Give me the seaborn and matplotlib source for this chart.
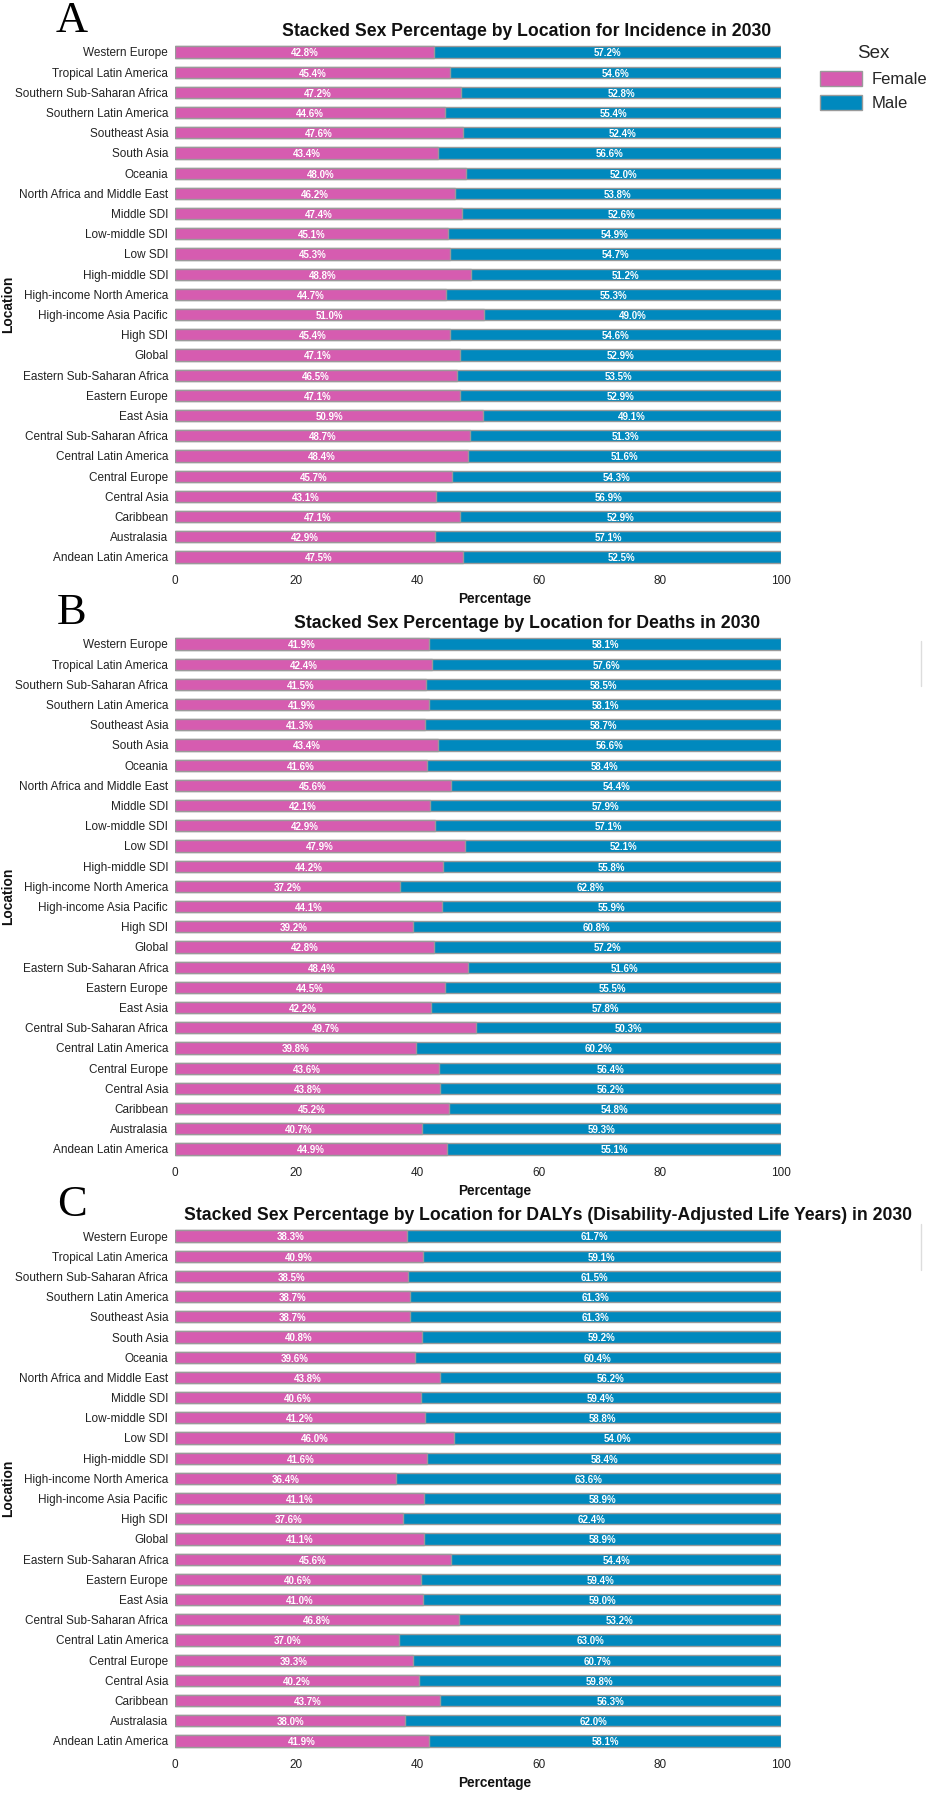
import matplotlib
matplotlib.use("Agg")
import matplotlib.pyplot as plt
import seaborn as sns
import pandas as pd
import numpy as np
from matplotlib.patches import Patch
from matplotlib.lines import Line2D

locations = ["Western Europe", "Tropical Latin America", "Southern Sub-Saharan Africa",
             "Southern Latin America", "Southeast Asia", "South Asia", "Oceania",
             "North Africa and Middle East", "Middle SDI", "Low-middle SDI", "Low SDI",
             "High-middle SDI", "High-income North America", "High-income Asia Pacific",
             "High SDI", "Global", "Eastern Sub-Saharan Africa", "Eastern Europe",
             "East Asia", "Central Sub-Saharan Africa", "Central Latin America",
             "Central Europe", "Central Asia", "Caribbean", "Australasia",
             "Andean Latin America"]

incidence_female = [42.8, 45.4, 47.2, 44.6, 47.6, 43.4, 48.0, 46.2, 47.4, 45.1, 45.3, 48.8, 44.7,
                    51.0, 45.4, 47.1, 46.5, 47.1, 50.9, 48.7, 48.4, 45.7, 43.1, 47.1, 42.9, 47.5]
incidence_male = [57.2, 54.6, 52.8, 55.4, 52.4, 56.6, 52.0, 53.8, 52.6, 54.9, 54.7, 51.2, 55.3,
                  49.0, 54.6, 52.9, 53.5, 52.9, 49.1, 51.3, 51.6, 54.3, 56.9, 52.9, 57.1, 52.5]

deaths_female = [41.9, 42.4, 41.5, 41.9, 41.3, 43.4, 41.6, 45.6, 42.1, 42.9, 47.9, 44.2, 37.2,
                 44.1, 39.2, 42.8, 48.4, 44.5, 42.2, 49.7, 39.8, 43.6, 43.8, 45.2, 40.7, 44.9]
deaths_male = [58.1, 57.6, 58.5, 58.1, 58.7, 56.6, 58.4, 54.4, 57.9, 57.1, 52.1, 55.8, 62.8,
               55.9, 60.8, 57.2, 51.6, 55.5, 57.8, 50.3, 60.2, 56.4, 56.2, 54.8, 59.3, 55.1]

dalys_female = [38.3, 40.9, 38.5, 38.7, 38.7, 40.8, 39.6, 43.8, 40.6, 41.2, 46.0, 41.6, 36.4,
                41.1, 37.6, 41.1, 45.6, 40.6, 41.0, 46.8, 37.0, 39.3, 40.2, 43.7, 38.0, 41.9]
dalys_male = [61.7, 59.1, 61.5, 61.3, 61.3, 59.2, 60.4, 56.2, 59.4, 58.8, 54.0, 58.4, 63.6,
              58.9, 62.4, 58.9, 54.4, 59.4, 59.0, 53.2, 63.0, 60.7, 59.8, 56.3, 62.0, 58.1]

titles = ["Stacked Sex Percentage by Location for Incidence in 2030",
          "Stacked Sex Percentage by Location for Deaths in 2030",
          "Stacked Sex Percentage by Location for DALYs (Disability-Adjusted Life Years) in 2030"]
panel_letters = ["A", "B", "C"]
sex_labels = ["Female", "Male"]
x_ticks = [0, 20, 40, 60, 80, 100]

FEMALE_C = "#D65CB0"
MALE_C = "#0089BE"
EDGE_C = "#9A9A9A"

sns.set_theme(style="white")
plt.rcParams["font.family"] = ["Liberation Sans", "DejaVu Sans"]

W, H = 930, 1793
fig = plt.figure(figsize=(W / 100, H / 100), dpi=100)

panels = [(incidence_female, incidence_male), (deaths_female, deaths_male),
          (dalys_female, dalys_male)]
row0_px = [52, 644, 1236]
spacing = 20.2
n = len(locations)
ax_left_px, ax_right_px = 175, 781
title_cx = [527, 527, 548]

for k, (fem, mal) in enumerate(panels):
    top_px = row0_px[k] - spacing / 2
    bot_px = row0_px[k] + (n - 1) * spacing + spacing / 2
    ax = fig.add_axes([ax_left_px / W, 1 - bot_px / H,
                       (ax_right_px - ax_left_px) / W, (bot_px - top_px) / H])
    df = pd.DataFrame({"Location": locations, "Female": fem, "Male": mal})
    df["Total"] = df["Female"] + df["Male"]
    sns.barplot(data=df, x="Total", y="Location", color=MALE_C, width=0.56,
                edgecolor=EDGE_C, linewidth=1.0, saturation=1, ax=ax)
    sns.barplot(data=df, x="Female", y="Location", color=FEMALE_C, width=0.56,
                edgecolor=EDGE_C, linewidth=1.0, saturation=1, ax=ax)
    for i, (f, m) in enumerate(zip(fem, mal)):
        ax.text(f / 2, i + 0.02, f"{f:.1f}%", ha="center", va="center_baseline",
                color="white", fontsize=7, fontweight="bold")
        ax.text(f + m / 2, i + 0.02, f"{m:.1f}%", ha="center", va="center_baseline",
                color="white", fontsize=7, fontweight="bold")
    ax.set_xlim(0, 100)
    ax.set_ylim(n - 0.5, -0.5)
    ax.set_xticks(x_ticks)
    ax.set_xticklabels([str(t) for t in x_ticks])
    ax.tick_params(axis="both", length=0, labelsize=8.5, colors="#222222")
    ax.tick_params(axis="x", pad=6)
    ax.tick_params(axis="y", pad=5)
    for s in ax.spines.values():
        s.set_visible(False)
    ax.set_xlabel("Percentage", fontsize=9.8, fontweight="bold", color="#111111")
    ax.xaxis.set_label_coords((495 - ax_left_px) / (ax_right_px - ax_left_px), -0.047)
    ax.set_ylabel("Location", fontsize=10, fontweight="bold", color="#111111")
    ax.yaxis.set_label_coords(-(ax_left_px - 15) / (ax_right_px - ax_left_px), 0.5)

    fig.text(title_cx[k] / W, 1 - (row0_px[k] - 20.5) / H, titles[k],
             ha="center", va="center", fontsize=12.7, fontweight="bold", color="#111111")
    fig.text(72 / W, 1 - (row0_px[k] - 20) / H, panel_letters[k],
             ha="center", va="baseline", fontsize=32, color="black",
             family=["Liberation Serif", "DejaVu Serif"])

    if k == 0:
        handles = [Patch(facecolor=FEMALE_C, edgecolor=EDGE_C, linewidth=1.0),
                   Patch(facecolor=MALE_C, edgecolor=EDGE_C, linewidth=1.0)]
        leg = ax.legend(handles, sex_labels, title="Sex", loc="upper left",
                        bbox_to_anchor=((805 - ax_left_px) / (ax_right_px - ax_left_px), 1.022),
                        frameon=False, fontsize=12, title_fontsize=13.5,
                        handlelength=2.5, handleheight=1.0, labelspacing=0.5,
                        handletextpad=0.6)

# faint artifact lines at the right edge of panels B and C
for y0, y1 in [(641, 686), (1224, 1270)]:
    fig.add_artist(Line2D([921 / W, 921 / W], [1 - y0 / H, 1 - y1 / H],
                          color="#DDDDDD", linewidth=1, transform=fig.transFigure))

fig.savefig("out.png", dpi=100)
